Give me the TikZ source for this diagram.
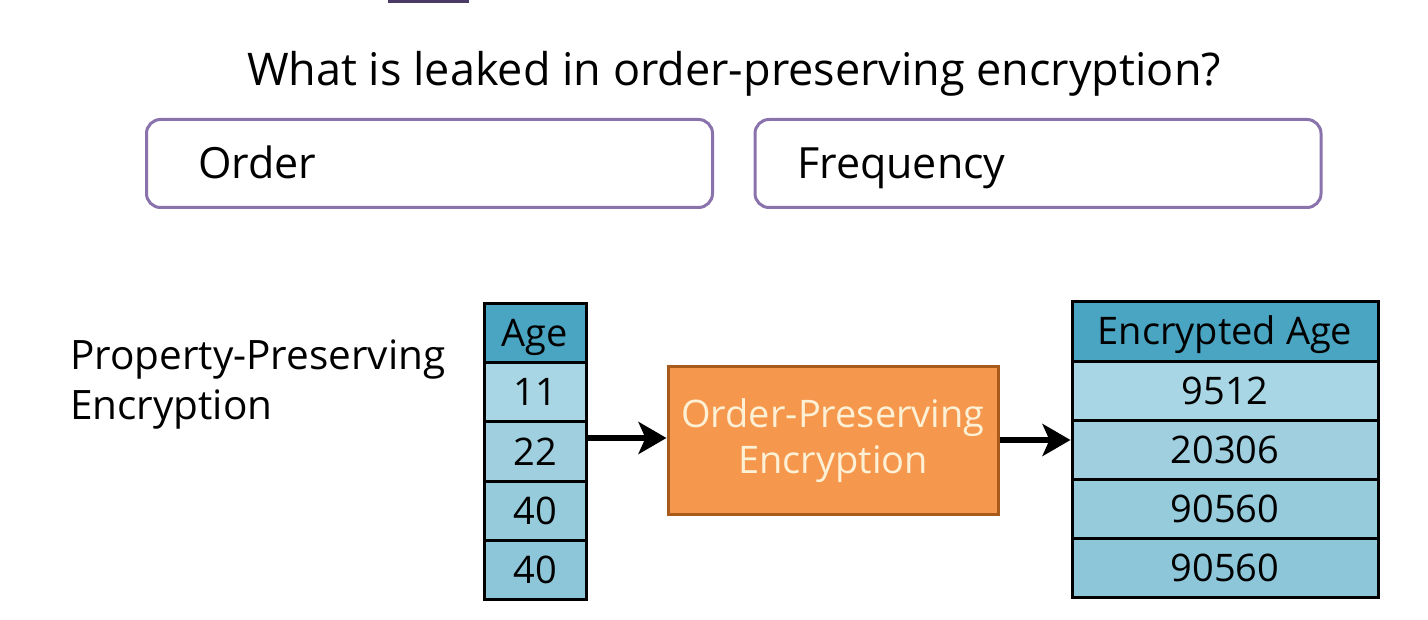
\documentclass[tikz,border=0pt]{standalone}
\usepackage{fontspec}
\setmainfont{Open Sans}
\usetikzlibrary{arrows.meta}
\definecolor{boxpurple}{HTML}{8A72AD}
\definecolor{toppurple}{HTML}{4A3A66}
\definecolor{hdrteal}{HTML}{4AA5C2}
\definecolor{rowA}{HTML}{A9D6E4}
\definecolor{rowB}{HTML}{A0D0E0}
\definecolor{rowC}{HTML}{96CBDC}
\definecolor{rowD}{HTML}{8DC6D9}
\definecolor{opefill}{HTML}{F5974C}
\definecolor{opeborder}{HTML}{A85A1A}
\definecolor{opetext}{HTML}{FDF0D5}
\tikzset{
  answerbox/.style={draw=boxpurple, line width=3pt, rounded corners=14pt, fill=white,
    minimum width=566pt, minimum height=88pt, inner sep=0pt},
  answertext/.style={anchor=base west, font=\fontsize{43}{48}\selectfont, inner sep=0pt},
  cell/.style={draw=black, line width=3pt, inner sep=0pt, text height=27pt, text depth=0pt,
    font=\fontsize{38}{40}\selectfont},
  agecell/.style={cell, minimum width=102pt, minimum height=59pt},
  enccell/.style={cell, minimum width=306pt, minimum height=59.2pt},
  bigarrow/.style={line width=6pt, -{Stealth[length=28pt,width=32pt,inset=7pt]}}
}
\begin{document}
\begin{tikzpicture}[x=1pt,y=-1pt]
\useasboundingbox (0,0) rectangle (1428,620);
\fill[white] (0,0) rectangle (1428,620);
% partial box at top
\draw[toppurple, line width=3pt] (389,-10) -- (389,1.5) -- (467,1.5) -- (467,-10);
% title
\node[font=\fontsize{45}{50}\selectfont, inner sep=0pt, anchor=base] (title) at (734,86) {What is leaked in order-preserving encryption?};
% answer boxes
\node[answerbox] (orderbox) at (429.5,163.5) {};
\node[answertext] (ordertext) at (198,179) {Order};
\node[answerbox] (freqbox) at (1038,163.5) {};
\node[answertext] (freqtext) at (797,179) {Frequency};
% left label
\node[anchor=north west, align=left, inner sep=0pt, font=\fontsize{40.5}{50}\selectfont] (ppe) at (70,340) {Property-Preserving\\Encryption};
% age table
\node[agecell, fill=hdrteal] (ageh) at (535,333.5) {Age};
\node[agecell, fill=rowA] (age1) at (535,392.5) {11};
\node[agecell, fill=rowB] (age2) at (535,451.5) {22};
\node[agecell, fill=rowC] (age3) at (535,510.5) {40};
\node[agecell, fill=rowD] (age4) at (535,569.5) {40};
% OPE box
\node[draw=opeborder, fill=opefill, line width=3pt, minimum width=330pt, minimum height=147pt,
      inner sep=0pt, align=center, text=opetext, font=\fontsize{38}{46}\selectfont] (ope) at (833,440.5) {Order-Preserving\\Encryption};
% encrypted table
\node[enccell, fill=hdrteal] (ench) at (1225,331.5) {Encrypted Age};
\node[enccell, fill=rowA] (enc1) at (1225,390.7) {9512};
\node[enccell, fill=rowB] (enc2) at (1225,449.9) {20306};
\node[enccell, fill=rowC] (enc3) at (1225,509.1) {90560};
\node[enccell, fill=rowD] (enc4) at (1225,568.3) {90560};
% arrows
\draw[bigarrow] (age2.east |- 0,438) -- (ope.west |- 0,438);
\draw[bigarrow] (ope.east |- 0,440) -- (enc2.west |- 0,440);
\end{tikzpicture}
\end{document}
